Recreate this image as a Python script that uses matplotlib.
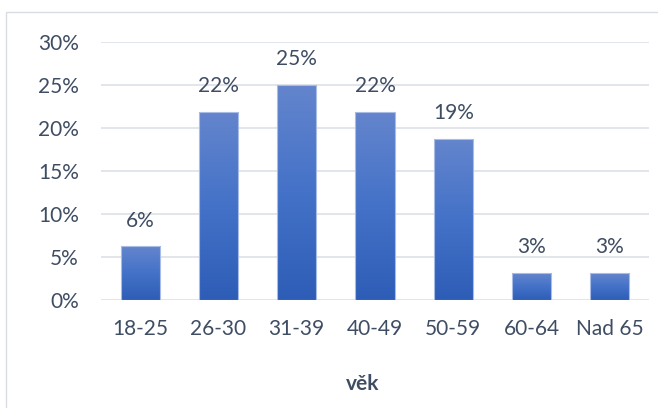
import numpy as np
import matplotlib.pyplot as plt
from matplotlib.colors import LinearSegmentedColormap
from matplotlib.patches import Rectangle
from matplotlib.ticker import PercentFormatter

# Data
categories = ['18-25', '26-30', '31-39', '40-49', '50-59', '60-64', 'Nad 65']
shares = [0.0625, 0.21875, 0.25, 0.21875, 0.1875, 0.03125, 0.03125]
bar_labels = ['6%', '22%', '25%', '22%', '19%', '3%', '3%']
y_ticks = [0, 0.05, 0.10, 0.15, 0.20, 0.25, 0.30]

text_color = '#3F4D63'
grid_color = '#DDE1E8'
plt.rcParams['font.family'] = ['Lato', 'DejaVu Sans']

W, H = 658, 408
fig = plt.figure(figsize=(W / 100, H / 100), dpi=100)
ax = fig.add_axes([101 / W, 1 - 300 / H, 548 / W, 258 / H])

x = np.arange(len(categories))
bars = ax.bar(x, shares, width=0.5, color='none', edgecolor='#A9BCE6',
              linewidth=0.8, zorder=3)

# gradient fill for each bar
cmap = LinearSegmentedColormap.from_list('bar', ['#2E5DB7', '#4472C8', '#6485CD'])
grad = np.linspace(0, 1, 256).reshape(-1, 1)
for b in bars:
    x0, w, h = b.get_x(), b.get_width(), b.get_height()
    im = ax.imshow(grad, cmap=cmap, origin='lower', aspect='auto',
                   extent=[x0, x0 + w, 0, h], zorder=2, interpolation='bilinear')
    im.set_clip_path(b)

for i, (v, lab) in enumerate(zip(shares, bar_labels)):
    ax.annotate(lab, (x[i], v), xytext=(0, 18.5), textcoords='offset points',
                ha='center', va='center', fontsize=15, color=text_color)

ax.set_xlim(-0.5, len(categories) - 0.5)
ax.set_ylim(0, 0.30)
ax.set_yticks(y_ticks)
ax.yaxis.set_major_formatter(PercentFormatter(1.0, decimals=0))
ax.set_xticks(x)
ax.set_xticklabels(categories)
ax.tick_params(axis='both', length=0, labelsize=15, labelcolor=text_color)
ax.tick_params(axis='y', pad=16)
ax.tick_params(axis='x', pad=14)
ax.grid(axis='y', color=grid_color, linewidth=1.2, zorder=0)
ax.set_axisbelow(True)
for s in ax.spines.values():
    s.set_visible(False)

fig.text(363 / W, 1 - 384 / H, 'věk', ha='center', va='center',
         fontsize=15, fontweight='bold', color=text_color)

# chart border
fig.add_artist(Rectangle((6 / W, -0.05), 1.0, 1 - 12 / H + 0.05,
                         transform=fig.transFigure, fill=False,
                         edgecolor='#D9DDE3', linewidth=1.0))

fig.savefig('out.png', dpi=100)
